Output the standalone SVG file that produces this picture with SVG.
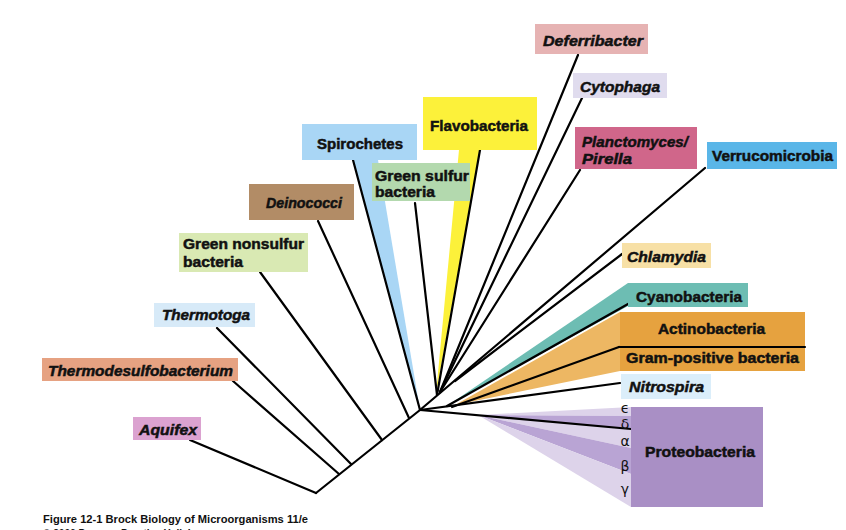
<svg xmlns="http://www.w3.org/2000/svg" width="846" height="530" viewBox="0 0 846 530">
<style>
.lbl{font-family:"Liberation Sans",Arial,sans-serif;font-weight:bold;font-size:15px;fill:#111;stroke:#111;stroke-width:0.5}
.it{font-style:italic}
.ln{stroke:#000;stroke-width:2.2;fill:none;stroke-linecap:round}
.greek{font-family:"DejaVu Sans",sans-serif;font-size:14px;fill:#111}
.cap{font-family:"Liberation Sans",Arial,sans-serif;font-weight:bold;font-size:11px;fill:#111}
</style>
<rect width="846" height="530" fill="#fff"/>

<g id="wedges">
<polygon points="353,160 378,160 420,410" fill="#a9d6f5"/>
<polygon points="459,150 480,150 436,394" fill="#fcf13a"/>
<polygon points="628,283 628,306 450,404" fill="#6dbdb3"/>
<polygon points="620,312 620,371 455,405" fill="#edb763"/>
<polygon points="478,415 631,407 631,416" fill="#ddd3ea"/>
<polygon points="478,415 631,416 631,429" fill="#b9a4d4"/>
<polygon points="478,415 631,429 631,448" fill="#ddd3ea"/>
<polygon points="478,415 631,448 631,474" fill="#b9a4d4"/>
<polygon points="478,415 631,474 631,507" fill="#ddd3ea"/>
</g>

<g id="connectors">
<line class="ln" x1="316" y1="493" x2="420" y2="410"/>
<line class="ln" x1="190" y1="440" x2="316" y2="493"/>
<line class="ln" x1="233" y1="381" x2="339" y2="474"/>
<line class="ln" x1="217" y1="328" x2="351" y2="464"/>
<line class="ln" x1="260" y1="272" x2="382" y2="440"/>
<line class="ln" x1="318" y1="221" x2="409" y2="418"/>
<line class="ln" x1="353" y1="160" x2="420" y2="410"/>
<line class="ln" x1="415" y1="203" x2="437" y2="395"/>
<line class="ln" x1="480" y1="150" x2="437" y2="395"/>
<line class="ln" x1="578" y1="55" x2="440" y2="392"/>
<line class="ln" x1="582" y1="98" x2="440" y2="392"/>
<line class="ln" x1="580" y1="170" x2="440" y2="392"/>
<line class="ln" x1="705" y1="168" x2="420" y2="410"/>
<line class="ln" x1="622" y1="254" x2="455" y2="381"/>
<line class="ln" x1="628" y1="304" x2="447" y2="406"/>
<line class="ln" x1="619" y1="347" x2="452" y2="407"/>
<line class="ln" x1="620" y1="383" x2="420" y2="410"/>
<line class="ln" x1="420" y1="410" x2="631" y2="429"/>
</g>

<g id="deferribacter">
<rect x="535" y="24" width="113" height="30" fill="#e6b3b3"/>
<text class="lbl it" x="543" y="46" textLength="100" lengthAdjust="spacingAndGlyphs">Deferribacter</text>
</g>
<g id="cytophaga">
<rect x="573" y="73" width="94" height="25" fill="#e0dcee"/>
<text class="lbl it" x="580" y="92" textLength="80" lengthAdjust="spacingAndGlyphs">Cytophaga</text>
</g>
<g id="planctomyces">
<rect x="575" y="127" width="122" height="42" fill="#d0668a"/>
<text class="lbl it" x="582" y="147" textLength="106" lengthAdjust="spacingAndGlyphs">Planctomyces/</text>
<text class="lbl it" x="582" y="164" textLength="50" lengthAdjust="spacingAndGlyphs">Pirella</text>
</g>
<g id="verrucomicrobia">
<rect x="707" y="142" width="130" height="27" fill="#5ab6e8"/>
<text class="lbl" x="712" y="161" textLength="121" lengthAdjust="spacingAndGlyphs">Verrucomicrobia</text>
</g>
<g id="flavobacteria">
<rect x="423" y="97" width="114" height="53" fill="#fcf13a"/>
<text class="lbl" x="430" y="131" font-size="16" textLength="98" lengthAdjust="spacingAndGlyphs">Flavobacteria</text>
</g>
<g id="spirochetes">
<rect x="302" y="124" width="115" height="36" fill="#a9d6f5"/>
<text class="lbl" x="317" y="149" textLength="86" lengthAdjust="spacingAndGlyphs">Spirochetes</text>
</g>
<g id="green-sulfur">
<rect x="372" y="163" width="98" height="38" fill="#b3d9ae"/>
<text class="lbl" x="375" y="181" textLength="94" lengthAdjust="spacingAndGlyphs">Green sulfur</text>
<text class="lbl" x="375" y="197" textLength="60" lengthAdjust="spacingAndGlyphs">bacteria</text>
</g>
<g id="deinococci">
<rect x="249" y="184" width="105" height="36" fill="#b28c66"/>
<text class="lbl it" x="266" y="208" textLength="76" lengthAdjust="spacingAndGlyphs">Deinococci</text>
</g>
<g id="green-nonsulfur">
<rect x="179" y="233" width="129" height="39" fill="#d9e9b3"/>
<text class="lbl" x="183" y="249" textLength="121" lengthAdjust="spacingAndGlyphs">Green nonsulfur</text>
<text class="lbl" x="183" y="267" textLength="60" lengthAdjust="spacingAndGlyphs">bacteria</text>
</g>
<g id="thermotoga">
<rect x="154" y="303" width="101" height="24" fill="#d7eaf8"/>
<text class="lbl it" x="162" y="320" textLength="88" lengthAdjust="spacingAndGlyphs">Thermotoga</text>
</g>
<g id="thermodesulfobacterium">
<rect x="42" y="358" width="196" height="23" fill="#e6a282"/>
<text class="lbl it" x="48" y="376" textLength="185" lengthAdjust="spacingAndGlyphs">Thermodesulfobacterium</text>
</g>
<g id="aquifex">
<rect x="133" y="417" width="68" height="23" fill="#dba2d0"/>
<text class="lbl it" x="139" y="435" textLength="58" lengthAdjust="spacingAndGlyphs">Aquifex</text>
</g>
<g id="chlamydia">
<rect x="622" y="243" width="89" height="25" fill="#f7e0a6"/>
<text class="lbl it" x="627" y="262" textLength="79" lengthAdjust="spacingAndGlyphs">Chlamydia</text>
</g>
<g id="cyanobacteria">
<rect x="628" y="283" width="120" height="24" fill="#6dbdb3"/>
<text class="lbl" x="636" y="302" textLength="106" lengthAdjust="spacingAndGlyphs">Cyanobacteria</text>
</g>
<g id="gram-positive">
<rect x="620" y="312" width="185" height="59" fill="#e6a23f"/>
<text class="lbl" x="658" y="334" textLength="107" lengthAdjust="spacingAndGlyphs">Actinobacteria</text>
<text class="lbl" x="626" y="363" textLength="173" lengthAdjust="spacingAndGlyphs">Gram-positive bacteria</text>
<line class="ln" x1="619" y1="347" x2="805" y2="347"/>
</g>
<g id="nitrospira">
<rect x="621" y="374" width="90" height="25" fill="#dbeefa"/>
<text class="lbl it" x="629" y="392" textLength="75" lengthAdjust="spacingAndGlyphs">Nitrospira</text>
</g>
<g id="proteobacteria">
<rect x="631" y="407" width="132" height="100" fill="#a98fc5"/>
<text class="lbl" x="645" y="457" textLength="110" lengthAdjust="spacingAndGlyphs">Proteobacteria</text>
<text class="greek" x="625" y="413" font-size="13" text-anchor="middle">ϵ</text>
<text class="greek" x="625" y="429" text-anchor="middle">δ</text>
<text class="greek" x="625" y="446" text-anchor="middle">α</text>
<text class="greek" x="625" y="471" text-anchor="middle">β</text>
<text class="greek" x="625" y="494" text-anchor="middle">γ</text>
</g>

<g id="caption">
<text class="cap" x="43" y="523" textLength="265" lengthAdjust="spacingAndGlyphs">Figure 12-1  Brock Biology of Microorganisms 11/e</text>
<text class="cap" x="43" y="537" textLength="162" lengthAdjust="spacingAndGlyphs">© 2006 Pearson Prentice Hall, Inc.</text>
</g>
</svg>
